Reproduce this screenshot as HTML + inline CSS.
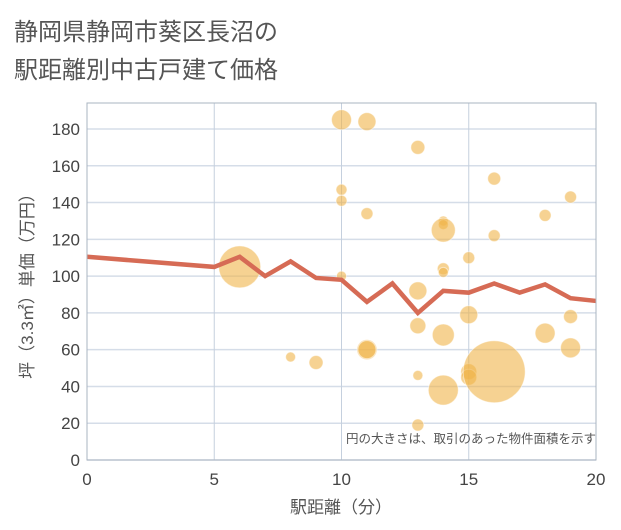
<!DOCTYPE html>
<html><head><meta charset="utf-8"><style>
body{margin:0;background:#fff;}
svg{display:block;font-family:"Liberation Sans","Noto Sans CJK JP",sans-serif;}
</style></head><body>
<svg width="621" height="530">
<text x="14" y="40" font-size="24" fill="#555">静岡県静岡市葵区長沼の</text>
<text x="14" y="78" font-size="24" fill="#555">駅距離別中古戸建て価格</text>
<g id="grid"></g>
<g id="bubbles"></g>
<g id="line"></g>
<rect x="87" y="103" width="509" height="357" fill="none" stroke="#aab4c0" stroke-width="1"/>
<text x="596" y="443" font-size="12.5" fill="#555" text-anchor="end">円の大きさは、取引のあった物件面積を示す</text>
<text x="341" y="513" font-size="17" fill="#555" text-anchor="middle">駅距離（分）</text>
<text transform="translate(33,282) rotate(-90)" font-size="17" fill="#555" text-anchor="middle">坪（3.3㎡）単価（万円）</text>
</svg>
<script>
const xTicks=[0,5,10,15,20];
const yTicks=[0,20,40,60,80,100,120,140,160,180];
const bx=[6,10,11,13,16,19,10,10,11,18,14,14,14,16,15,14,14,10,13,15,19,13,18,14,19,8,9,11,11,13,15,15,16,14,13];
const by=[105,185,184,170,153,143,147,141,134,133,130,128,125,122,110,104,102,100,92,79,78,73,69,68,61,56,53,60,60,46,48,45,48,38,19];
const bs=[21,10,9,7,6.5,6,5.5,5.5,6,6,5,5,12,6,6,6,5,5,9,9,7,8,10,11,10,5,7,10,9,5,8,8,31,15,6];
const lx=[0,5,6,7,8,9,10,11,12,13,14,15,16,17,18,19,20];
const ly=[110.5,105,110.5,100,108,99,98,86,96,80,92,91,96,91,95.5,88,86.5];
const X=v=>87+v*509/20, Y=v=>460-v*331/180;
const NS="http://www.w3.org/2000/svg";
function mk(t,a,p){const e=document.createElementNS(NS,t);for(const k in a)e.setAttribute(k,a[k]);p.appendChild(e);return e;}
const g=document.getElementById('grid');
yTicks.forEach(v=>{
 const l=mk('line',{x1:87,x2:596,y1:Y(v),y2:Y(v),stroke:'#d5dde8','stroke-width':1.5},g);
 
 
 const t=mk('text',{x:80,y:Y(v)+6,'font-size':17,fill:'#444','text-anchor':'end'},g);t.textContent=v;
 
 
});
xTicks.forEach(v=>{
 const l=mk('line',{x1:X(v),x2:X(v),y1:103,y2:460,stroke:'#c5d0de','stroke-width':1},g);
 
 
 const t=mk('text',{x:X(v),y:485,'font-size':17,fill:'#444','text-anchor':'middle'},g);t.textContent=v;
 
 
});
const bg=document.getElementById('bubbles');
bx.forEach((v,i)=>{
 const c=mk('circle',{cx:X(v),cy:Y(by[i]),r:bs[i],fill:'#f0b449','fill-opacity':0.6,stroke:'#fff','stroke-opacity':0.5},bg);
 
 
});
const p=mk('polyline',{points:lx.map((v,i)=>X(v)+','+Y(ly[i])).join(' '),fill:'none',stroke:'#d66b55','stroke-width':4.5,'stroke-linejoin':'miter'},document.getElementById('line'));


</script>
</body></html>
